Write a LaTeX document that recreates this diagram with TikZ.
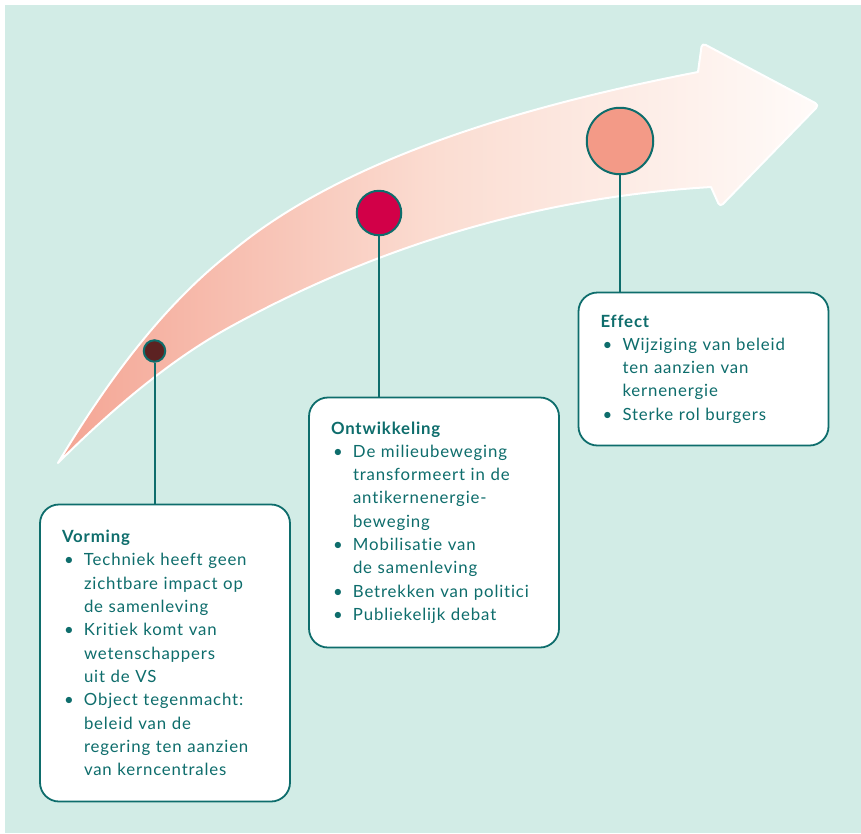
\documentclass[tikz,border=0pt]{standalone}
\usepackage{fontspec}
\setmainfont{Lato}[LetterSpace=5, Ligatures=NoCommon]
\usepackage{tikz}
\usepackage{xcolor}

\definecolor{mint}{HTML}{D2ECE6}
\definecolor{tealline}{HTML}{0E6D6C}
\definecolor{arrowL}{HTML}{F4A594}
\definecolor{arrowM}{HTML}{FBDDD2}
\definecolor{arrowR}{HTML}{FFFBF9}
\definecolor{dotdark}{HTML}{5C2222}
\definecolor{dotred}{HTML}{D20048}
\definecolor{dotsalmon}{HTML}{F39A87}

\newcommand{\bul}{\makebox[22pt][l]{\hspace{2pt}\textbullet}}
\newcommand{\ind}{\hspace*{22pt}}

\begin{document}
\begin{tikzpicture}[x=1pt, y=-1pt,
  card/.style={rectangle, draw=tealline, line width=1.8pt, fill=white, rounded corners=19pt, inner xsep=22pt, inner ysep=0pt, text width=206pt, align=left, text=tealline, font=\fontsize{16.8}{23.3}\selectfont},
  dot/.style={circle, draw=tealline, line width=2pt, inner sep=0pt},
  stem/.style={draw=tealline, line width=2pt}]
\fill[white] (0,0) rectangle (861,833);
\fill[mint] (5,5) rectangle (861,833);
\useasboundingbox (0,0) rectangle (861,833);

% the big arrow
\draw[white, line width=2pt, line join=round, left color=arrowL, right color=arrowR, middle color=arrowM]
  (58,463) .. controls (105,385) and (160,308) .. (230,253)
  .. controls (344.8,156.4) and (531.4,104.3) .. (698,72)
  [rounded corners=4pt] -- (702,43) -- (819,105) -- (720,207) [sharp corners] -- (711,187)
  .. controls (541.5,197.2) and (381.2,243.9) .. (230,327)
  .. controls (176.7,356.3) and (119.3,401.7) .. (58,463) -- cycle;

\node[dot, minimum size=21.5pt, fill=dotdark] (vdot) at (154.5,351) {};
\node[dot, minimum size=44.5pt, fill=dotred] (odot) at (379,213) {};
\node[dot, minimum size=66.5pt, fill=dotsalmon] (edot) at (620,141) {};

\node[card, minimum height=297pt] (vorming) at (165,653) {{\bfseries Vorming}\\
\bul Techniek heeft geen\\
\ind zichtbare impact op\\
\ind de samenleving\\
\bul Kritiek komt van\\
\ind wetenschappers\\
\ind uit de VS\\
\bul Object tegenmacht:\\
\ind beleid van de\\
\ind regering ten aanzien\\
\ind van kerncentrales};
\node[card, minimum height=250pt] (ontw) at (434,522.5) {{\bfseries Ontwikkeling}\\
\bul De milieubeweging\\
\ind transformeert in de\\
\ind antikernenergie-\\
\ind beweging\\
\bul Mobilisatie van\\
\ind de samenleving\\
\bul Betrekken van politici\\
\bul Publiekelijk debat};
\node[card, minimum height=153pt] (effect) at (703.5,369) {{\bfseries Effect}\\
\bul Wijziging van beleid\\
\ind ten aanzien van\\
\ind kernenergie\\
\bul Sterke rol burgers};

\draw[stem] (vdot.south) -- (vdot.south |- vorming.north);
\draw[stem] (odot.south) -- (odot.south |- ontw.north);
\draw[stem] (edot.south) -- (edot.south |- effect.north);
\end{tikzpicture}
\end{document}
